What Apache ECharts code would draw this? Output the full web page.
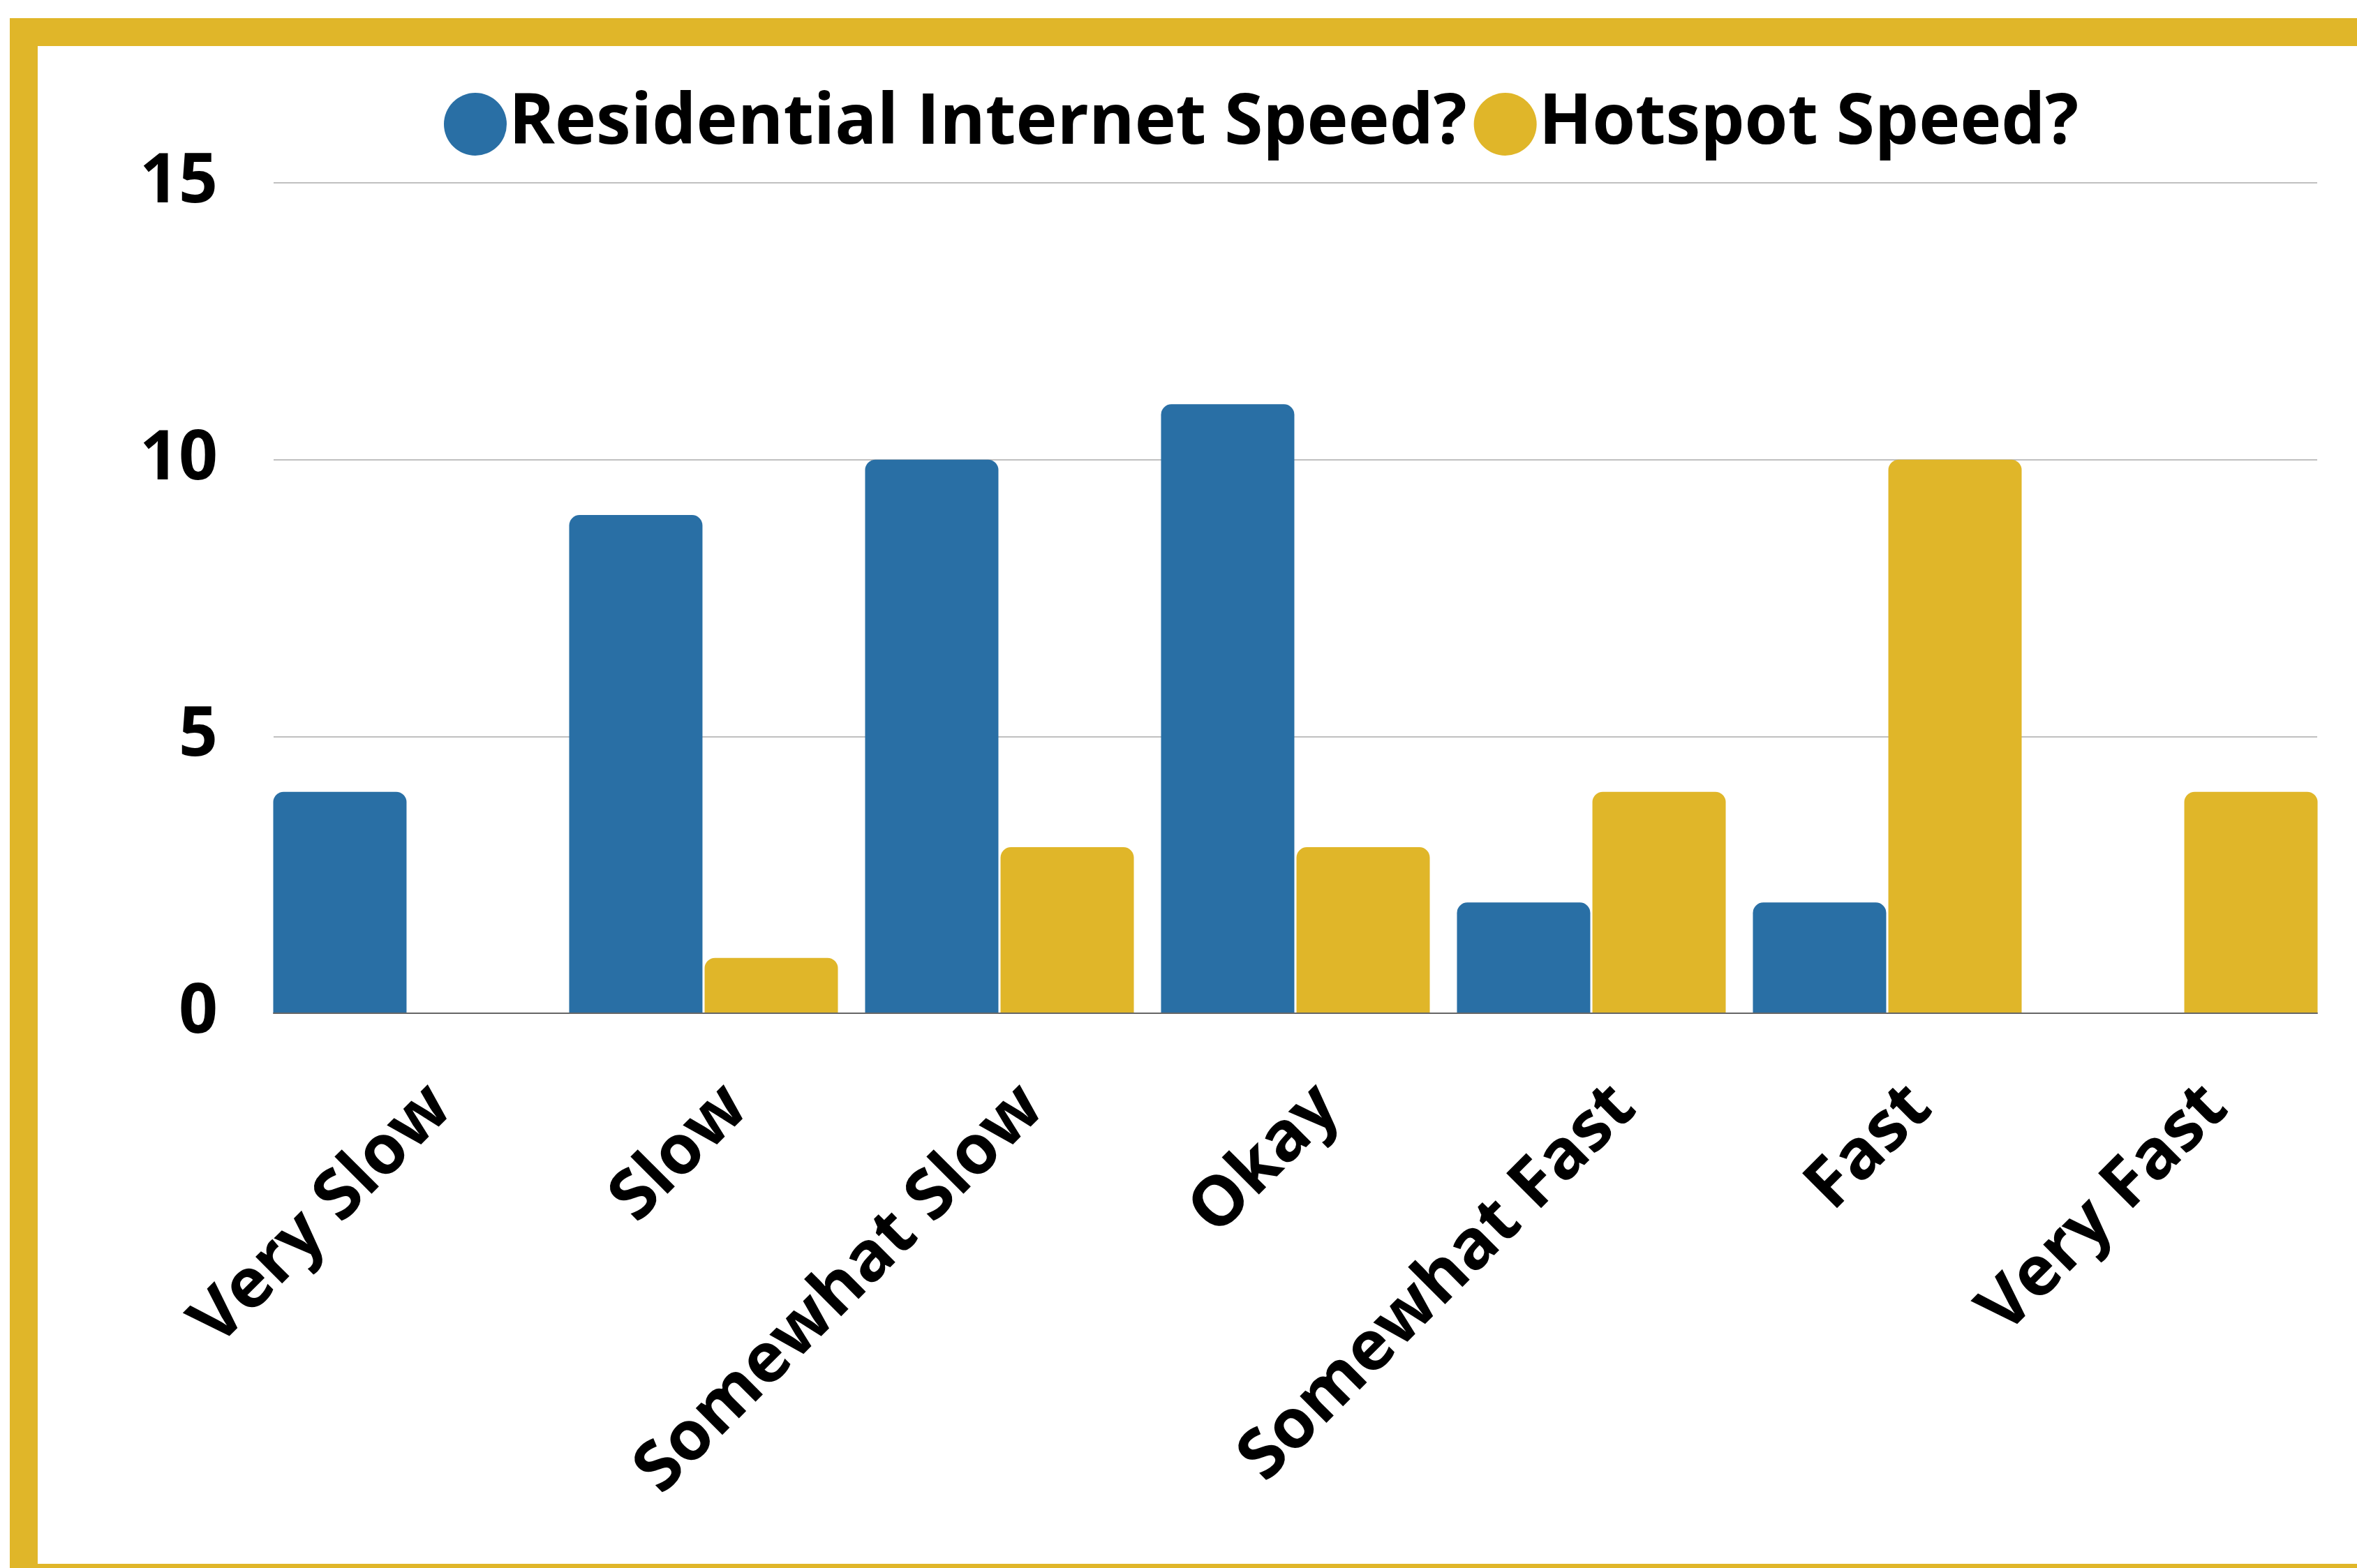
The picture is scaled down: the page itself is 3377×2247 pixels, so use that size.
<!DOCTYPE html>
<html><head><meta charset="utf-8">
<script src="https://cdn.jsdelivr.net/npm/echarts@6/dist/echarts.min.js"></script>
<style>html,body{margin:0;padding:0;background:#fff}#c{width:3377px;height:2247px}</style>
</head><body><div id="c"></div>
<script>
const categories = ['Very Slow', 'Slow', 'Somewhat Slow', 'Okay', 'Somewhat Fast', 'Fast', 'Very Fast'];
const residential = [4, 9, 10, 11, 2, 2, 0];
const hotspot = [0, 1, 3, 3, 4, 10, 4];
const seriesNames = ['Residential Internet Speed?', 'Hotspot Speed?'];
const yMin = 0, yMax = 15, yStep = 5;

const BLUE = '#296fa5', GOLD = '#e0b629', FONT = '"Open Sans", "Noto Sans", sans-serif';
const chart = echarts.init(document.getElementById('c'), null, {renderer: 'canvas'});
const gTop = 262, gBottom = 2247 - 1452;
chart.setOption({
  backgroundColor: '#ffffff',
  animation: false,
  textStyle: {fontFamily: FONT},
  graphic: [{
    type: 'rect', z: 100, silent: true,
    shape: {x: 34, y: 46, width: 3400, height: 2215},
    style: {fill: 'none', stroke: GOLD, lineWidth: 40}
  }],
  legend: {
    left: 631, top: 123,
    icon: 'circle', itemWidth: 90, itemHeight: 90, itemGap: 10,
    textStyle: {fontSize: 100, fontWeight: 'bold', color: '#000', fontFamily: FONT, padding: [0, 0, 0, -2]},
    data: seriesNames
  },
  grid: [
    {left: 392, right: 57, top: gTop, bottom: gBottom},
    {left: 372, right: 37, top: gTop, bottom: gBottom}
  ],
  xAxis: [
    {gridIndex: 0, type: 'category', data: categories,
     axisLine: {show: true, lineStyle: {color: '#666', width: 2}},
     axisTick: {show: false}, axisLabel: {show: false}, splitLine: {show: false}, z: 10},
    {gridIndex: 1, type: 'category', data: categories,
     axisLine: {show: false}, axisTick: {show: false},
     axisLabel: {interval: 0, rotate: 45, margin: 72, fontSize: 99, fontWeight: 'bold',
                 color: '#000', fontFamily: FONT, verticalAlign: 'top', padding: [18, 0, 0, 0]}}
  ],
  yAxis: [
    {gridIndex: 0, type: 'value', min: yMin, max: yMax, interval: yStep,
     axisLine: {show: false}, axisTick: {show: false},
     axisLabel: {margin: 80, fontSize: 98, fontWeight: 'bold', color: '#000', fontFamily: FONT,
                 padding: [12, 0, 0, 0]},
     splitLine: {lineStyle: {color: '#c0c0c0', width: 2}}},
    {gridIndex: 1, type: 'value', min: yMin, max: yMax, interval: yStep, show: false,
     splitLine: {show: false}}
  ],
  series: [
    {name: seriesNames[0], type: 'bar', xAxisIndex: 1, yAxisIndex: 1, data: residential,
     barWidth: 191, barGap: '1.6%', itemStyle: {color: BLUE, borderRadius: [15, 15, 0, 0]}},
    {name: seriesNames[1], type: 'bar', xAxisIndex: 1, yAxisIndex: 1, data: hotspot,
     barWidth: 191, barGap: '1.6%', itemStyle: {color: GOLD, borderRadius: [15, 15, 0, 0]}}
  ]
});
</script></body></html>
